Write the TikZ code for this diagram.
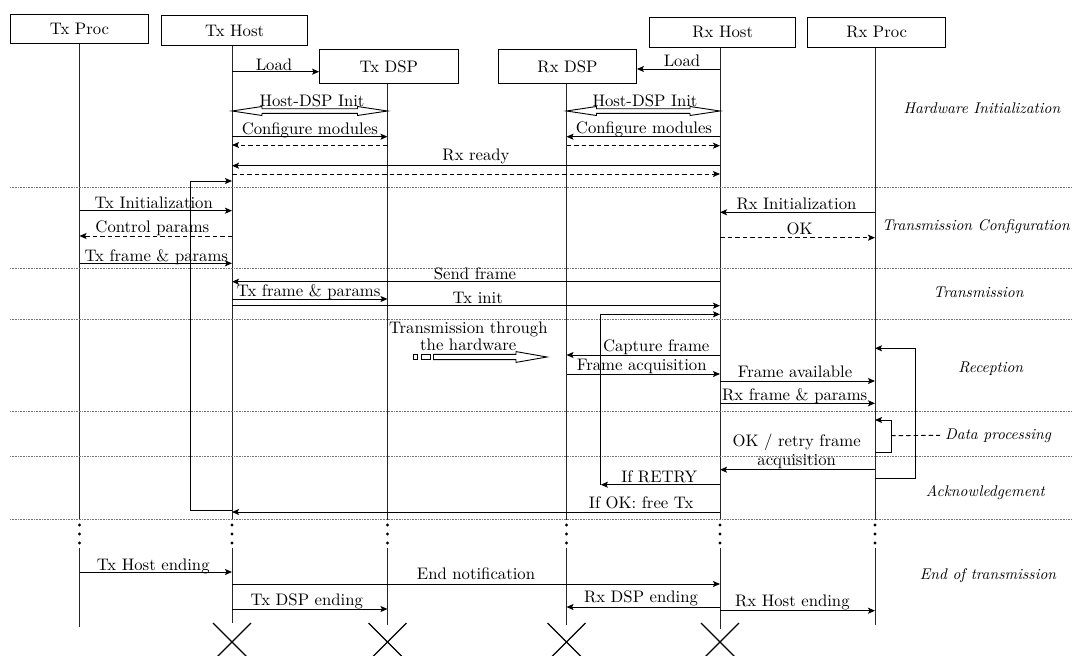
\documentclass[tikz,border=0pt]{standalone}
\usetikzlibrary{arrows.meta,calc}
% Latin Modern at its 10pt design size, scaled freely
\DeclareFontFamily{TU}{lmten}{}
\DeclareFontShape{TU}{lmten}{m}{n}{<-> "[lmroman10-regular]"}{}
\DeclareFontShape{TU}{lmten}{m}{it}{<-> "[lmroman10-italic]"}{}
\begin{document}
\begin{tikzpicture}[x=1pt,y=-1pt,
  every node/.style={font=\fontfamily{lmten}\fontsize{16.7}{19}\selectfont,inner sep=0pt},
  actor/.style={draw,line width=1pt,inner sep=0pt},
  life/.style={line width=1pt,black!85},
  msg/.style={line width=1pt,-{Stealth[length=7pt,width=6pt,inset=1.5pt]}},
  reply/.style={msg,dash pattern=on 4.5pt off 3pt},
  hollow/.style={line width=0.9pt,line join=miter},
  lbl/.style={anchor=base},
  phase/.style={anchor=base,font=\fontfamily{lmten}\fontsize{15.5}{18}\selectfont\itshape},
  sep/.style={line width=0.6pt,black!55,dash pattern=on 0.7pt off 0.9pt},
  ending/.style={line width=1.2pt},
]
\useasboundingbox (0,0) rectangle (1072,656);

% horizontal message between two lifelines at a given depth
\newcommand\msgarrow[4][]{\draw[msg,#1] ($(#2)+(0,#4)$) -- ($(#3)+(0,#4)$);}

% ---------------- participants ----------------
\node[actor,minimum width=138.5pt,minimum height=29.3pt] (txproc) at (79.5,28.7)  {Tx Proc};
\node[actor,minimum width=145.7pt,minimum height=29.6pt] (txhost) at (234.6,30.5) {Tx Host};
\node[actor,minimum width=138.4pt,minimum height=34pt]   (txdsp)  at (388.8,66.3) {Tx DSP};
\node[actor,minimum width=137.9pt,minimum height=34pt]   (rxdsp)  at (567.5,66.3) {Rx DSP};
\node[actor,minimum width=146.2pt,minimum height=30pt]   (rxhost) at (722.7,32.3) {Rx Host};
\node[actor,minimum width=138.2pt,minimum height=30pt]   (rxproc) at (876.7,32.3) {Rx Proc};

\coordinate (TP) at (79.5,0);
\coordinate (TH) at (232,0);
\coordinate (TD) at (387.5,0);
\coordinate (RD) at (566.5,0);
\coordinate (RH) at (720,0);
\coordinate (RP) at (875,0);

% lifelines, interrupted by an ellipsis before the final phase
\foreach \L/\B/\E in {TP/txproc/627,TH/txhost/623,TD/txdsp/625,RD/rxdsp/625,RH/rxhost/629,RP/rxproc/625}{
  \draw[life] (\L |- \B.south) -- ($(\L)+(0,520)$);
  \draw[life] ($(\L)+(0,548)$) -- ($(\L)+(0,\E)$);
  \foreach \d in {525,534,543} \fill ($(\L)+(0,\d)$) circle (1.6pt);
}

% destruction marks
\foreach \L in {TH,TD,RD,RH}{
  \draw[ending] ($(\L)+(-19,623)$) -- ($(\L)+(19,661)$);
  \draw[ending] ($(\L)+(19,623)$) -- ($(\L)+(-19,661)$);
}

% phase separators
\foreach \s in {187.7,268.3,319.5,411.7,455.8,519}
  \draw[sep] (10,\s) -- (1072,\s);

% ---------------- hardware initialization ----------------
\draw[msg] ($(TH)+(0,71.7)$) -- ($(txdsp.west)+(0,5.4)$);
\node[lbl] (loadtx) at (274,70.2) {Load};
\draw[msg] ($(RH)+(0,69)$) -- ($(rxdsp.east)+(0,2.7)$);
\node[lbl] (loadrx) at (682,66.7) {Load};

\draw[hollow] ($(TH)+(0,111)$) -- ++(30,-4.5) -- ++(0,2.2) -- ++(95.5,0) -- ++(0,-2.2)
  -- ($(TD)+(0,111)$) -- ++(-30,4.5) -- ++(0,-2.2) -- ++(-95.5,0) -- ++(0,2.2) -- cycle;
\node[lbl] (inittx) at (312,106) {Host-DSP Init};
\draw[hollow] ($(RD)+(0,111)$) -- ++(30,-4.5) -- ++(0,2.2) -- ++(93.5,0) -- ++(0,-2.2)
  -- ($(RH)+(0,111)$) -- ++(-30,4.5) -- ++(0,-2.2) -- ++(-93.5,0) -- ++(0,2.2) -- cycle;
\node[lbl] (initrx) at (645,106) {Host-DSP Init};

\msgarrow{TH}{TD}{136.7}
\node[lbl] (conftx) at (309.8,134) {Configure modules};
\msgarrow[reply]{TD}{TH}{145}
\msgarrow{RH}{RD}{136.7}
\node[lbl] (confrx) at (644,133.3) {Configure modules};
\msgarrow[reply]{RD}{RH}{145.7}

\msgarrow{RH}{TH}{165.7}
\node[lbl] (rxready) at (476,160) {Rx ready};
\msgarrow[reply]{TH}{RH}{174}

\node[phase] (phhw) at (982,113.3) {Hardware Initialization};

% retransmission loop on the Tx side
\coordinate (txloop) at (190.7,0);
\draw[msg] ($(TH)+(0,510.3)$) -- ($(txloop)+(0,510.3)$) -- ($(txloop)+(0,181)$) -- ($(TH)+(0,181)$);

% ---------------- transmission configuration ----------------
\msgarrow{TP}{TH}{210.7}
\node[lbl] (txinitz) at (153.7,208.5) {Tx Initialization};
\msgarrow[reply]{TH}{TP}{236}
\node[lbl] (ctrl) at (152.4,232.7) {Control params};
\msgarrow{TP}{TH}{263.3}
\node[lbl] (txfp1) at (156.3,261) {Tx frame \& params};
\msgarrow{RP}{RH}{212.3}
\node[lbl] (rxinitz) at (796.5,209.3) {Rx Initialization};
\msgarrow[reply]{RH}{RP}{237.7}
\node[lbl] (okcfg) at (799.6,234) {OK};

\node[phase,anchor=base east] (phcfg) at (1070,230) {Transmission Configuration};

% ---------------- transmission ----------------
\msgarrow{RH}{TH}{281.7}
\node[lbl] (sendf) at (475,279.5) {Send frame};
\msgarrow{TH}{TD}{299}
\node[lbl] (txfp2) at (308.7,296.7) {Tx frame \& params};
\msgarrow{TH}{RH}{305.7}
\node[lbl] (txinit) at (477.8,303.3) {Tx init};

\node[phase] (phtx) at (978.5,297.3) {Transmission};

% retry loop on the Rx side
\coordinate (rxloop) at (600.9,0);
\draw[msg] ($(RH)+(0,484.7)$) -- ($(rxloop)+(0,484.7)$);
\draw[msg] ($(rxloop)+(0,484.7)$) -- ($(rxloop)+(0,314.3)$) -- ($(RH)+(0,314.3)$);

% ---------------- reception ----------------
\node[lbl] (hw1) at (468.3,333.3) {Transmission through};
\node[lbl] (hw2) at (468.3,350.7) {the hardware};
\draw[hollow] (413.3,354.2) rectangle (417.7,359.2);
\draw[hollow] (421.7,354.2) rectangle (430.5,359.2);
\draw[hollow] (433.5,354.4) -- (516,354.4) -- (516,351.6) -- (547,357) -- (516,362.4)
  -- (516,359.6) -- (433.5,359.6) -- cycle;

\msgarrow{RH}{RD}{355}
\node[lbl] (capt) at (656.2,351.7) {Capture frame};
\msgarrow{RD}{RH}{374}
\node[lbl] (acq) at (641.7,370.7) {Frame acquisition};
\msgarrow{RH}{RP}{381}
\node[lbl] (avail) at (795,377.7) {Frame available};
\msgarrow{RH}{RP}{403.3}
\node[lbl] (rxfp) at (794.7,400) {Rx frame \& params};

\coordinate (rploop) at (915,0);
\draw[msg] ($(RP)+(0,478.3)$) -- ($(rploop)+(0,478.3)$) -- ($(rploop)+(0,348.3)$) -- ($(RP)+(0,348.3)$);

\node[phase] (phrx) at (990.8,372.3) {Reception};

% ---------------- data processing ----------------
\coordinate (dploop) at (891,0);
\draw[msg] ($(RP)+(0,452.3)$) -- ($(dploop)+(0,452.3)$) -- ($(dploop)+(0,420)$) -- ($(RP)+(0,420)$);
\node[phase,anchor=base west] (phdp) at (945,439) {Data processing};
\draw[line width=0.9pt,dash pattern=on 4.5pt off 3pt] ($(dploop)+(0,435.7)$) -- ($(phdp.west)+(-5,0)$);

% ---------------- acknowledgement ----------------
\node[lbl] (okr1) at (796.7,446.7) {OK / retry frame};
\node[lbl] (okr2) at (796.7,465) {acquisition};
\msgarrow{RP}{RH}{469.7}
\node[lbl] (retry) at (659.2,482.3) {If RETRY};
\msgarrow{RH}{TH}{512}
\node[lbl] (freetx) at (641.2,508.3) {If OK: free Tx};

\node[phase] (phack) at (985.3,496.7) {Acknowledgement};

% ---------------- end of transmission ----------------
\msgarrow{TP}{TH}{572}
\node[lbl] (txhe) at (153.2,570) {Tx Host ending};
\msgarrow{TH}{RH}{584}
\node[lbl] (endn) at (476,579) {End notification};
\msgarrow{TH}{TD}{609}
\node[lbl] (txde) at (306.8,605) {Tx DSP ending};
\msgarrow{RH}{RD}{607}
\node[lbl] (rxde) at (641,602.7) {Rx DSP ending};
\msgarrow{RH}{RP}{610.7}
\node[lbl] (rxhe) at (792.4,606) {Rx Host ending};

\node[phase] (phend) at (988,579.3) {End of transmission};
\end{tikzpicture}
\end{document}
